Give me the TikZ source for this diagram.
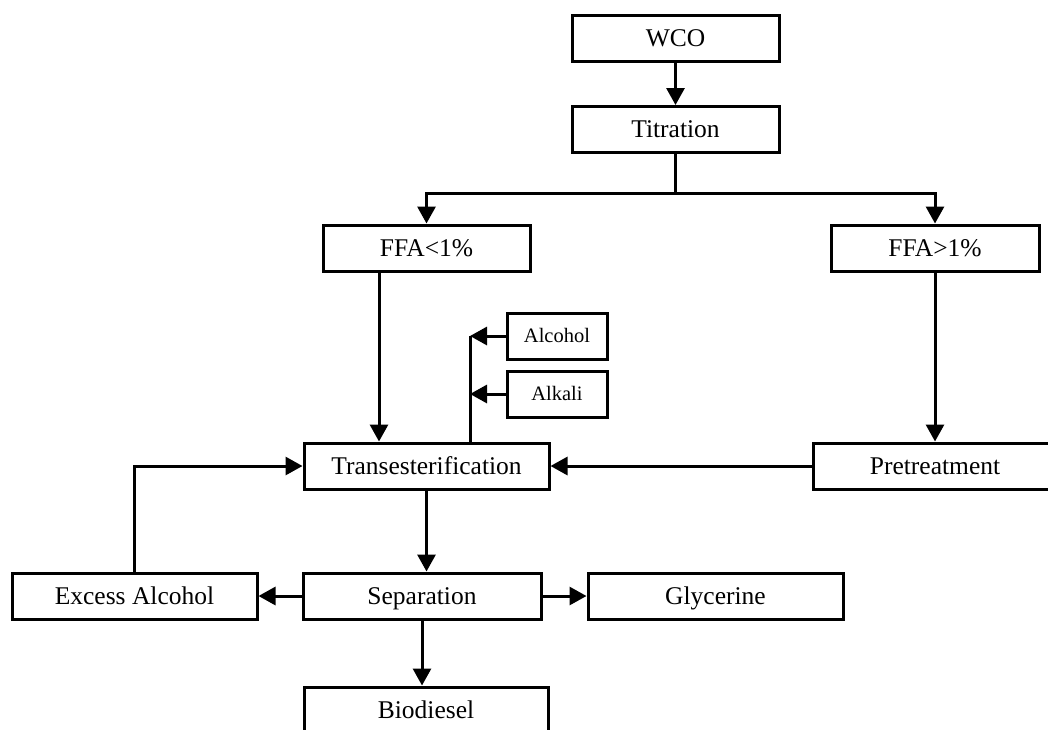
\documentclass[tikz,border=0pt]{standalone}
\usepackage{fontspec}
\setmainfont{Liberation Serif}
\usetikzlibrary{arrows.meta}
\begin{document}
\begin{tikzpicture}[x=1pt,y=-1pt,
  box/.style={draw,line width=3pt,rectangle,inner sep=0pt,
    text height=21.7pt,text depth=4.9pt,
    font=\fontsize{25.5}{30}\selectfont},
  smallbox/.style={box,text height=17.4pt,text depth=3.9pt,
    font=\fontsize{20.5}{24}\selectfont},
  link/.style={line width=3pt,-{Triangle[length=17pt,width=18pt]}},
  plain/.style={line width=3pt}]
\useasboundingbox (0,0) rectangle (1048,729);
\clip (0,0) rectangle (1048,729);

% process boxes
\node[box,minimum width=207pt,minimum height=46pt] (wco) at (675.5,38) {WCO};
\node[box,minimum width=207pt,minimum height=46pt] (tit) at (675.5,129.5) {Titration};
\node[box,minimum width=207pt,minimum height=46pt] (low) at (426.5,248) {FFA<1\%};
\node[box,minimum width=208pt,minimum height=46pt] (high) at (935,248) {FFA>1\%};
\node[smallbox,minimum width=100pt,minimum height=46pt] (alc) at (557,336) {Alcohol};
\node[smallbox,minimum width=100pt,minimum height=46pt] (alk) at (557,394) {Alkali};
\node[box,minimum width=245pt,minimum height=46pt] (trans) at (426.5,466) {Transesterification};
\node[box,minimum width=244pt,minimum height=46pt] (pre) at (935,466) {Pretreatment};
\node[box,minimum width=245pt,minimum height=46pt] (exc) at (134.5,596) {Excess Alcohol};
\node[box,minimum width=238pt,minimum height=46pt] (sep) at (422,596) {Separation};
\node[box,minimum width=255pt,minimum height=46pt] (gly) at (715.5,596) {Glycerine};
\node[box,minimum width=244pt,minimum height=46pt] (bio) at (426,710) {Biodiesel};

% branch point below titration and feed line into transesterification
\coordinate (split) at (675.5,193);
\coordinate (feed) at (470,336);

% connectors
\draw[link] (wco) -- (tit);
\draw[plain] (tit.south) -- (split);
\draw[link] (split) -| (low.north);
\draw[link] (split) -| (high.north);
\draw[link] ([xshift=-47.5pt]low.south) -- ([xshift=-47.5pt]trans.north);
\draw[link] (high) -- (pre);
\draw[link] (pre) -- (trans);
\draw[plain] ([xshift=43.5pt]trans.north) -- (feed);
\draw[link] (alc.west) -- (feed);
\draw[link] (alk.west) -- (feed |- alk.west);
\draw[link] (trans.south) -- (trans.south |- sep.north);
\draw[link] (sep) -- (exc);
\draw[link] (sep) -- (gly);
\draw[link] (sep) -- (sep |- bio.north);
\draw[link] (exc.north) |- (trans.west);
\end{tikzpicture}
\end{document}
